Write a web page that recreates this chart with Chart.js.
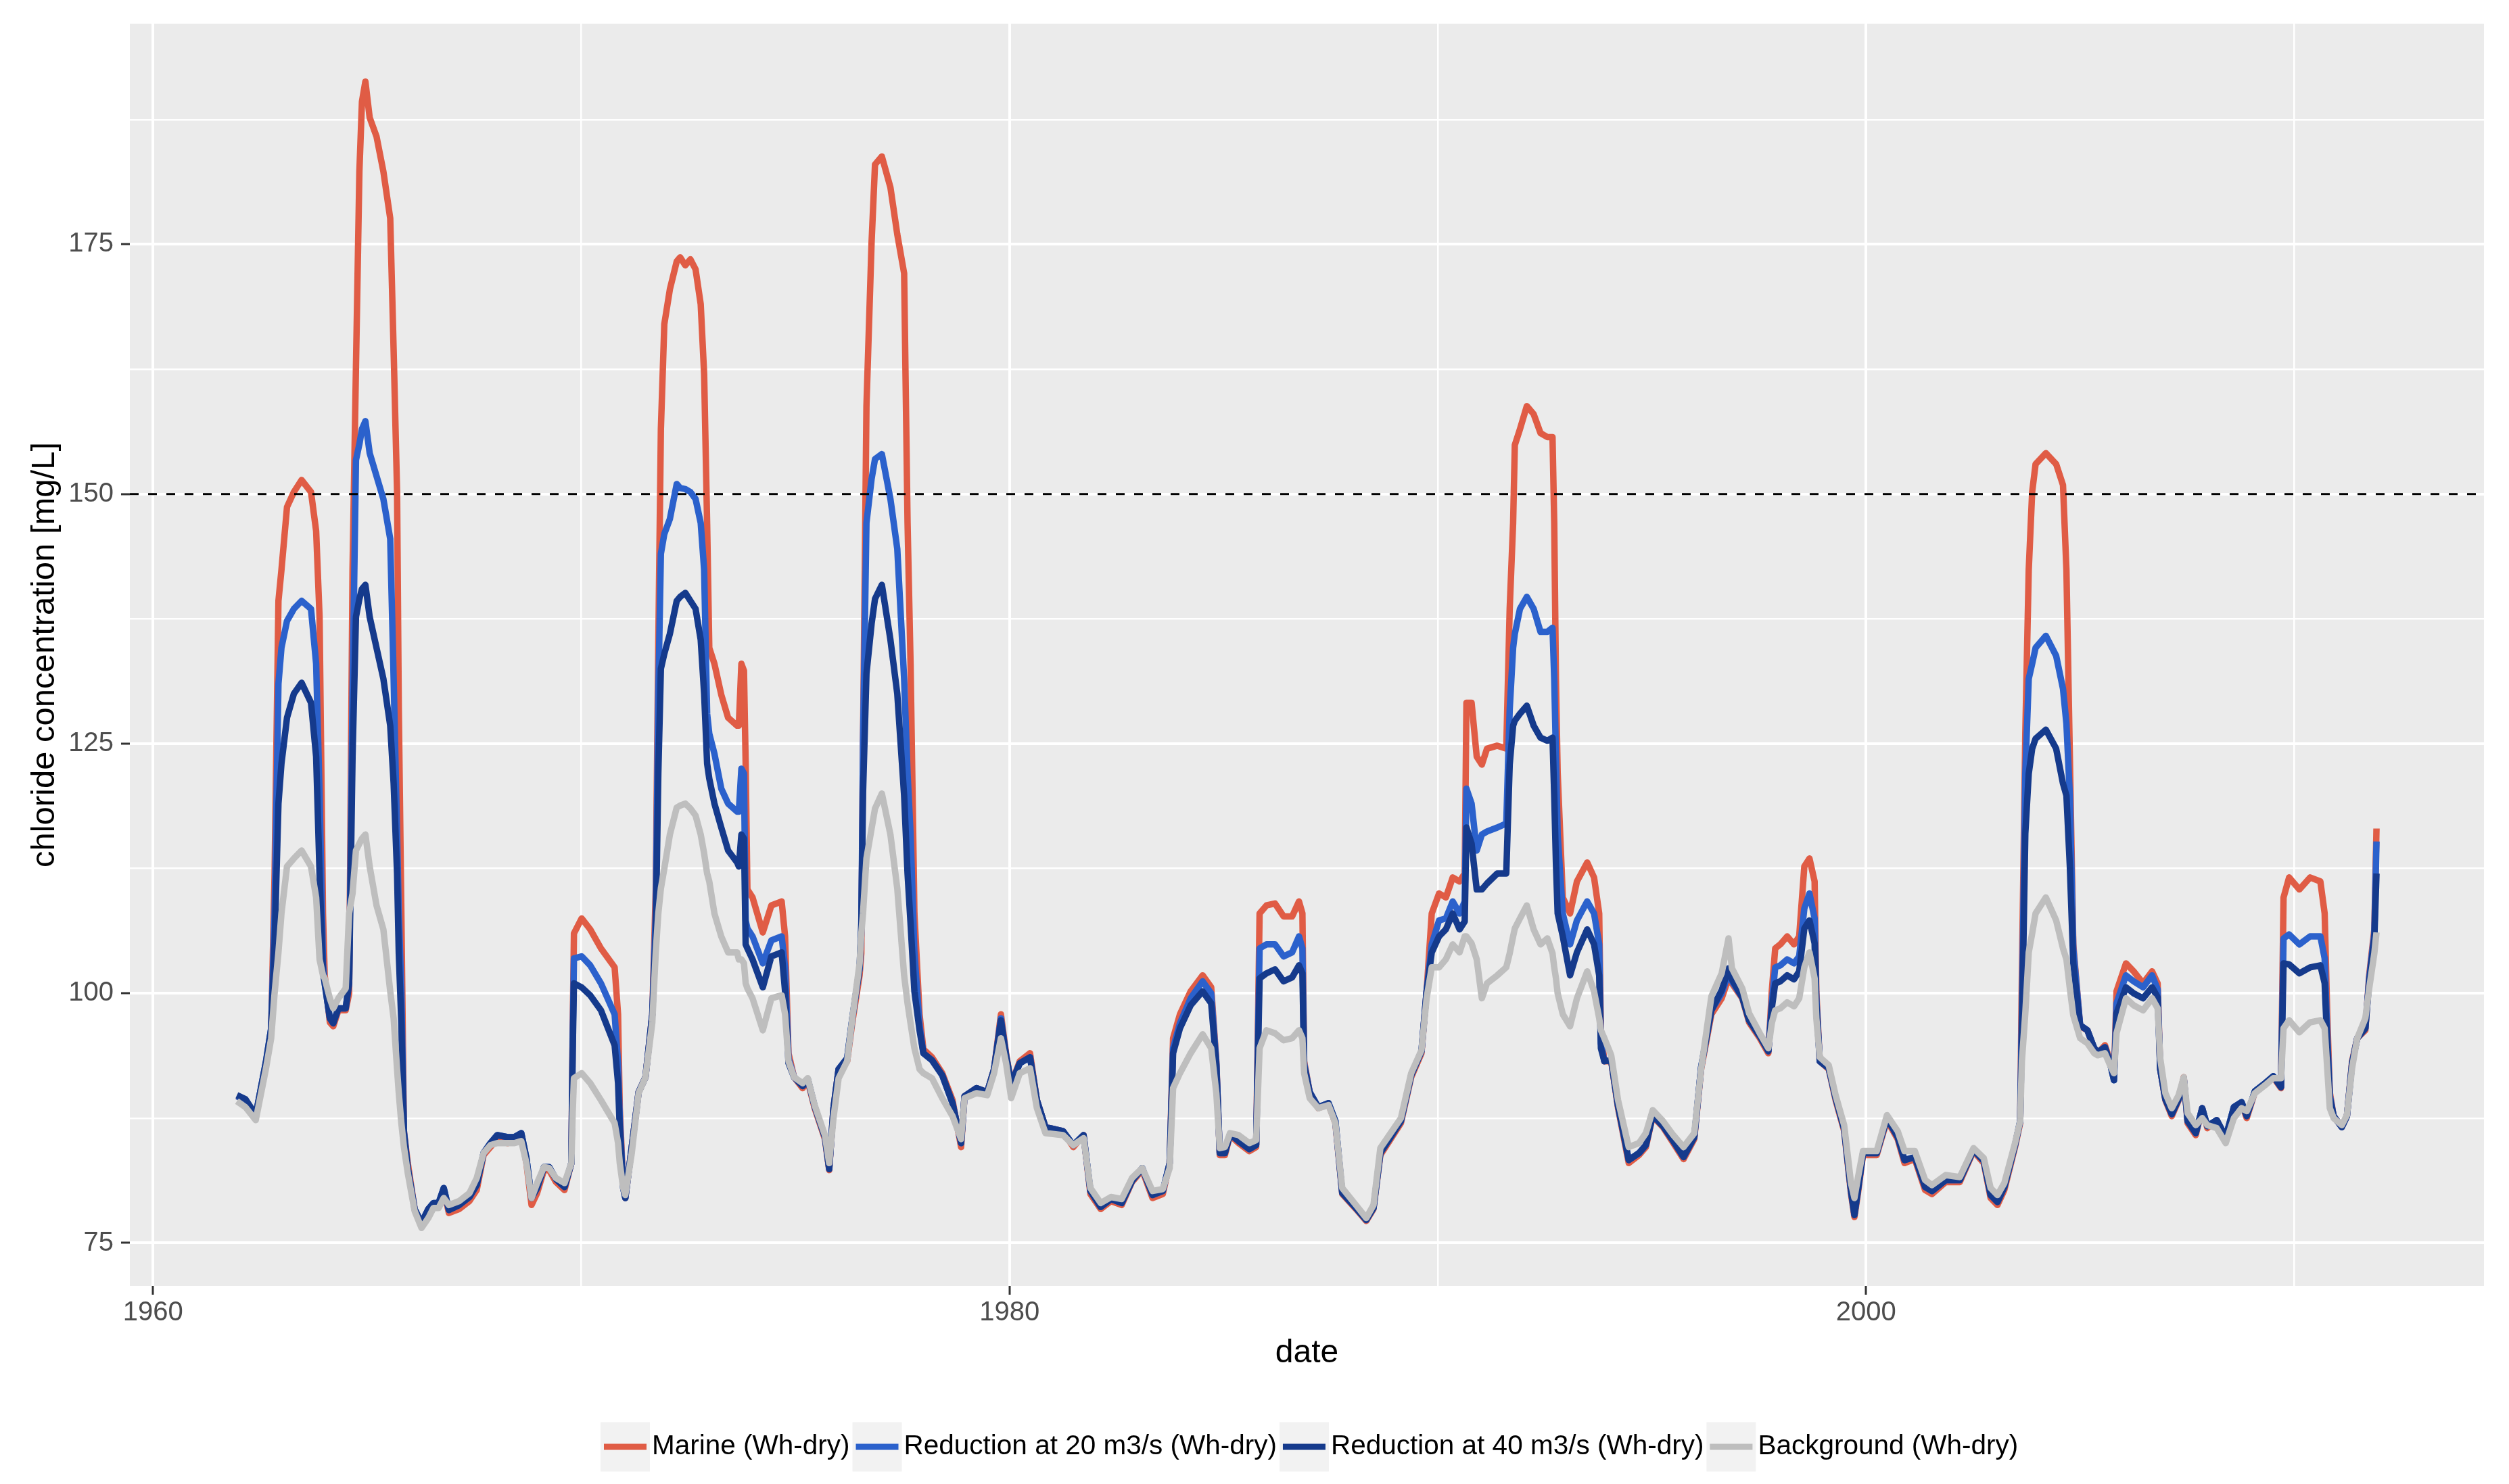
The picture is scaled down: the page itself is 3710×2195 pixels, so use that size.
<!DOCTYPE html>
<html>
<head>
<meta charset="utf-8"/>
<title>chloride concentration</title>
<script src="https://cdn.jsdelivr.net/npm/chart.js@4.4.1/dist/chart.umd.min.js"></script>
<style>
  body { margin: 0; background: #ffffff; overflow: hidden; }
</style>
</head>
<body>
<canvas id="chart" width="3710" height="2195"></canvas>
<script>
// decimal year of each sample
var dates = [
1961.96,1962.16,1962.40,1962.64,1962.76,1962.84,1962.93,1963.00,1963.13,1963.29,
1963.47,1963.69,1963.81,1963.89,1963.97,1964.01,1964.13,1964.21,1964.33,1964.50,
1964.58,1964.66,1964.74,1964.82,1964.88,1964.96,1965.06,1965.22,1965.38,1965.54,
1965.62,1965.70,1965.74,1965.80,1965.86,1965.95,1966.11,1966.27,1966.43,1966.55,
1966.67,1966.79,1966.91,1967.15,1967.39,1967.56,1967.72,1967.88,1968.04,1968.28,
1968.44,1968.60,1968.72,1968.84,1968.97,1969.13,1969.25,1969.41,1969.61,1969.77,
1969.80,1969.83,1970.01,1970.21,1970.46,1970.78,1970.86,1970.90,1970.98,1971.03,
1971.18,1971.34,1971.50,1971.66,1971.74,1971.80,1971.86,1971.94,1972.07,1972.23,
1972.31,1972.43,1972.55,1972.67,1972.79,1972.87,1972.94,1972.99,1973.11,1973.27,
1973.43,1973.64,1973.68,1973.74,1973.80,1973.84,1973.88,1974.00,1974.24,1974.44,
1974.68,1974.76,1974.84,1974.97,1975.17,1975.29,1975.45,1975.69,1975.79,1975.89,
1976.01,1976.21,1976.33,1976.50,1976.54,1976.58,1976.66,1976.78,1976.86,1977.02,
1977.22,1977.38,1977.54,1977.62,1977.69,1977.78,1977.90,1977.99,1978.19,1978.43,
1978.67,1978.87,1978.95,1979.23,1979.48,1979.64,1979.80,1979.92,1980.04,1980.24,
1980.48,1980.64,1980.84,1981.25,1981.49,1981.73,1981.89,1982.13,1982.37,1982.62,
1982.86,1983.10,1983.34,1983.58,1983.74,1983.82,1983.98,1984.23,1984.51,1984.71,
1984.83,1984.91,1985.03,1985.15,1985.35,1985.60,1985.76,1985.84,1986.00,1986.20,
1986.40,1986.60,1986.76,1986.84,1986.88,1987.01,1987.21,1987.45,1987.61,1987.77,
1988.09,1988.33,1988.50,1988.66,1988.90,1989.14,1989.38,1989.62,1989.74,1989.86,
1990.03,1990.19,1990.35,1990.51,1990.63,1990.67,1990.79,1990.91,1991.03,1991.15,
1991.39,1991.60,1991.68,1991.76,1991.80,1991.92,1992.08,1992.24,1992.40,1992.56,
1992.68,1992.72,1992.76,1992.80,1992.92,1993.09,1993.25,1993.49,1993.65,1993.77,
1993.81,1993.89,1994.05,1994.21,1994.46,1994.70,1994.86,1995.02,1995.26,1995.50,
1995.74,1995.99,1996.15,1996.39,1996.63,1996.79,1996.87,1997.11,1997.27,1997.52,
1997.72,1997.80,1997.88,1998.00,1998.16,1998.32,1998.44,1998.56,1998.68,1998.80,
1998.84,1998.92,1999.13,1999.29,1999.49,1999.65,1999.73,1999.81,1999.93,2000.25,
2000.49,2000.74,2000.90,2001.14,2001.38,2001.54,2001.86,2002.19,2002.51,2002.75,
2002.91,2003.07,2003.23,2003.48,2003.60,2003.64,2003.72,2003.80,2003.88,2003.96,
2004.20,2004.44,2004.60,2004.68,2004.76,2004.84,2005.00,2005.17,2005.33,2005.41,
2005.58,2005.70,2005.79,2005.85,2006.07,2006.25,2006.47,2006.68,2006.81,2006.87,
2006.99,2007.14,2007.30,2007.42,2007.51,2007.70,2007.85,2007.97,2008.19,2008.40,
2008.59,2008.77,2008.89,2009.08,2009.32,2009.51,2009.69,2009.75,2009.88,2010.12,
2010.37,2010.61,2010.71,2010.77,2010.83,2010.92,2011.11,2011.23,2011.35,2011.47,
2011.66,2011.75,2011.87,2011.92
];

var marine = [
89.7,89.3,87.7,93.0,96.0,112.0,139.3,142.4,148.7,150.2,
151.4,150.2,146.3,137.7,108.0,101.8,97.1,96.7,98.3,98.3,
100.0,142.4,162.7,182.3,189.3,191.3,187.7,185.8,182.3,177.6,
164.3,150.2,128.4,108.0,86.2,83.0,78.4,76.8,78.4,78.8,
78.8,80.3,78.0,78.4,79.2,80.3,83.8,84.6,85.4,85.0,
85.4,85.8,83.0,78.8,80.0,82.3,82.3,81.1,80.3,83.0,
96.0,106.0,107.5,106.4,104.5,102.6,97.9,88.5,80.7,79.5,
84.6,90.1,91.6,97.9,110.4,135.0,156.5,167.0,170.5,173.3,
173.7,172.9,173.5,172.5,169.0,162.0,147.0,134.6,133.0,129.9,
127.6,126.8,126.8,133.0,132.3,122.9,110.4,109.6,106.1,108.8,
109.2,105.7,94.0,91.6,90.5,91.2,88.5,85.4,82.3,88.5,
92.4,93.2,97.1,101.8,104.0,125.0,158.8,175.2,183.0,183.8,
180.7,176.0,172.1,147.1,133.0,108.0,97.9,94.4,93.6,92.0,
89.3,84.6,89.7,90.5,90.1,92.4,97.9,94.0,90.9,93.2,
94.0,89.3,86.6,86.2,84.6,85.8,79.9,78.4,79.2,78.8,
81.1,82.3,79.5,79.9,83.0,95.5,97.9,100.2,101.8,100.6,
93.2,83.8,83.8,85.8,85.0,84.2,84.6,108.0,108.8,109.0,
107.7,107.7,109.2,108.0,93.2,90.1,88.5,88.9,87.0,79.9,
78.4,77.2,78.4,83.8,85.4,87.0,91.6,94.0,100.2,108.0,
110.0,109.6,111.6,111.2,112.0,129.1,129.1,123.7,122.9,124.5,
124.8,124.5,138.5,147.1,154.9,156.5,158.8,158.0,156.1,155.7,
155.7,147.1,131.5,122.1,109.6,108.0,111.2,113.1,111.6,108.0,
96.3,93.2,93.2,88.5,83.0,83.8,84.6,87.7,86.6,85.0,
83.4,85.4,92.4,97.9,99.5,101.5,101.0,99.5,97.1,95.5,
94.0,100.2,104.5,104.9,105.7,104.9,105.7,112.7,113.5,111.2,
100.2,93.2,92.4,89.3,86.2,79.9,77.6,79.9,83.8,83.8,
87.3,85.4,83.0,83.4,80.3,79.9,81.1,81.1,84.2,83.0,
79.5,78.8,80.3,84.6,87.0,101.8,126.0,142.4,150.2,153.0,
154.1,153.0,150.9,142.4,123.7,104.9,96.7,96.3,94.4,94.0,
94.8,93.2,91.6,100.2,103.0,102.2,101.0,102.2,101.0,92.4,
89.3,87.7,89.3,91.6,87.0,85.8,88.5,86.5,87.3,85.4,
88.5,89.0,87.5,90.1,90.9,91.6,90.5,109.6,111.6,110.4,
111.6,111.2,108.0,97.9,90.1,87.7,86.6,87.7,93.2,95.5,
96.3,101.8,106.4,116.5
];

var reduction20 = [
89.7,89.3,87.8,93.2,96.5,108.0,131.0,134.6,137.3,138.5,
139.3,138.5,133.0,120.0,103.0,101.0,97.5,97.0,98.5,98.5,
101.0,130.0,153.4,155.0,156.5,157.3,154.1,151.8,149.5,145.5,
131.5,115.9,108.0,100.2,86.2,82.5,78.4,77.0,78.4,79.0,
79.0,80.5,78.3,78.8,79.6,80.8,84.0,85.0,85.8,85.6,
85.6,86.0,83.5,79.5,80.5,82.6,82.6,81.4,80.6,83.0,
95.0,103.5,103.7,102.8,101.0,97.9,93.0,87.5,80.5,79.5,
84.6,90.1,91.6,97.9,108.0,130.0,144.0,146.0,147.5,151.0,
150.6,150.5,150.2,149.5,147.1,142.4,128.0,126.0,124.0,120.5,
119.0,118.2,118.2,122.5,122.0,107.3,106.5,105.7,103.0,105.3,
105.7,102.6,93.5,91.6,90.7,91.4,88.7,85.6,82.4,88.5,
92.4,93.5,97.5,102.5,106.0,125.0,147.1,151.5,153.5,154.0,
149.5,144.5,131.5,122.0,116.0,104.1,96.8,94.0,93.3,91.8,
89.0,85.0,89.7,90.5,90.1,92.4,97.5,93.8,90.9,93.0,
93.6,89.3,86.6,86.2,84.8,85.8,80.2,78.6,79.4,79.0,
81.2,82.5,79.8,80.2,83.0,94.5,97.0,99.5,101.2,100.0,
93.0,84.0,84.0,85.9,85.2,84.4,84.8,104.5,104.9,104.9,
103.7,104.1,105.7,104.5,93.0,90.1,88.6,89.0,87.2,80.0,
78.5,77.3,78.5,84.0,85.6,87.2,91.8,94.2,100.2,104.9,
107.3,107.5,109.2,108.0,109.2,120.5,119.0,114.3,115.9,116.2,
116.6,117.0,128.4,134.6,136.0,138.5,139.7,138.5,136.2,136.2,
136.6,131.5,123.7,115.9,108.0,104.9,107.3,109.2,108.0,104.9,
95.0,93.2,93.3,88.7,83.3,84.0,84.8,87.8,86.7,85.2,
83.6,85.6,92.6,98.3,100.0,102.0,101.2,99.6,97.3,95.7,
94.2,99.0,102.6,102.8,103.4,103.0,103.7,108.5,110.0,107.5,
99.5,93.2,92.5,89.5,86.4,80.2,77.8,80.2,84.0,84.0,
87.5,85.6,83.3,83.6,80.6,80.2,81.3,81.3,84.3,83.2,
79.8,79.1,80.6,84.8,87.2,98.0,122.0,131.5,133.0,134.6,
135.8,133.8,130.5,127.0,119.8,104.5,96.8,96.3,94.5,94.1,
94.6,93.0,91.3,99.0,101.8,101.2,100.6,101.8,100.4,92.4,
89.4,87.9,89.4,91.5,87.2,86.0,88.5,86.7,87.3,85.6,
88.6,89.1,87.7,90.2,91.0,91.7,90.6,105.5,105.9,104.9,
105.7,105.7,103.5,96.0,89.8,87.7,86.6,87.7,93.0,95.5,
96.5,101.5,106.0,115.2
];

var reduction40 = [
89.8,89.4,87.8,93.2,96.5,105.0,119.0,123.0,127.6,130.0,
131.1,129.1,123.7,112.0,102.0,101.0,97.5,97.0,98.5,98.5,
101.0,123.7,137.7,139.5,140.5,140.9,137.7,134.6,131.5,126.8,
121.0,112.0,104.0,97.0,86.0,82.5,78.4,77.0,78.4,79.0,
79.0,80.5,78.3,78.8,79.6,80.8,84.0,85.0,85.8,85.6,
85.6,86.0,83.5,79.5,80.5,82.6,82.6,81.4,80.6,83.0,
94.0,101.0,100.6,99.8,98.3,94.8,91.0,86.5,80.5,79.5,
84.6,90.1,91.6,97.9,106.0,122.0,132.5,134.0,136.0,139.3,
139.7,140.1,139.3,138.5,135.4,130.0,123.0,121.5,119.0,116.6,
114.3,113.1,112.7,115.9,115.5,104.9,104.5,103.4,100.6,103.7,
104.1,100.2,93.0,91.6,90.7,91.4,88.7,85.6,82.4,88.5,
92.4,93.5,97.5,102.5,107.0,120.0,132.0,137.0,139.5,140.9,
135.4,130.0,119.8,112.0,107.0,100.2,96.3,94.0,93.3,91.8,
89.0,85.0,89.7,90.5,90.1,92.4,97.3,93.8,90.9,93.0,
93.6,89.3,86.6,86.2,84.8,85.8,80.2,78.6,79.4,79.0,
81.2,82.5,79.8,80.2,83.0,94.0,96.5,98.8,100.2,99.0,
92.8,84.0,84.0,85.9,85.2,84.4,84.8,101.5,102.0,102.4,
101.2,101.6,102.8,102.0,92.8,90.1,88.6,89.0,87.2,80.0,
78.5,77.3,78.5,84.0,85.6,87.2,91.8,94.2,100.2,104.1,
105.7,106.4,108.0,106.4,107.2,116.6,115.0,110.4,110.4,111.0,
112.0,112.0,122.9,126.8,127.3,128.0,128.8,126.8,125.6,125.3,
125.6,119.8,113.0,108.0,105.7,101.8,104.1,106.4,104.9,101.8,
94.5,93.2,93.3,88.7,83.3,84.0,84.8,87.8,86.7,85.2,
83.6,85.6,92.6,98.3,100.3,102.5,101.4,99.6,97.3,95.7,
94.2,98.5,101.0,101.2,101.8,101.4,102.2,106.5,107.3,105.0,
99.0,93.2,92.5,89.5,86.4,80.2,77.8,80.2,84.0,84.0,
87.5,85.6,83.3,83.6,80.6,80.2,81.3,81.3,84.3,83.2,
79.8,79.1,80.6,84.8,87.2,96.0,116.0,122.0,124.5,125.5,
126.4,124.5,121.0,119.8,112.7,103.0,96.8,96.3,94.5,94.1,
94.6,93.0,91.3,98.0,100.6,100.0,99.5,100.6,99.6,92.4,
89.4,87.9,89.4,91.5,87.2,86.0,88.5,86.7,87.3,85.6,
88.6,89.1,87.7,90.2,91.0,91.7,90.6,103.0,102.9,102.0,
102.6,102.8,101.0,95.0,89.6,87.7,86.6,87.7,93.0,95.5,
96.5,101.2,105.5,112.0
];

var background = [
89.2,88.6,87.3,92.5,95.5,100.0,104.1,108.0,112.7,113.5,
114.3,112.7,109.6,103.4,101.8,101.5,99.5,98.5,99.5,100.5,
108.0,110.0,114.3,115.0,115.5,115.9,112.7,108.8,106.4,100.2,
97.5,92.4,90.0,87.0,84.6,82.0,78.2,76.5,77.5,78.5,
78.5,79.5,78.8,79.2,80.0,81.5,84.0,84.8,85.0,85.0,
85.0,85.2,83.0,79.5,81.0,82.6,82.5,81.5,81.0,83.0,
88.0,91.5,92.0,91.0,89.3,87.0,85.0,83.0,80.5,79.8,
84.0,90.0,91.6,97.1,104.1,108.0,110.5,112.5,115.9,118.6,
118.8,119.0,118.5,117.8,115.9,114.0,112.0,111.2,108.0,105.7,
104.1,104.1,103.4,103.4,103.0,101.0,100.5,99.5,96.3,99.5,
99.8,97.9,93.2,91.6,91.0,91.5,88.8,85.8,83.0,87.5,
91.5,93.2,97.5,103.0,106.0,108.0,113.5,116.5,118.5,120.0,
115.9,110.5,101.8,99.0,97.0,94.5,92.4,92.0,91.5,89.5,
87.7,85.4,89.5,90.0,89.8,92.0,95.5,93.0,89.5,92.0,
92.5,88.5,86.0,85.8,84.8,85.5,80.5,79.0,79.6,79.4,
81.5,82.5,80.2,80.4,82.5,90.5,92.0,94.0,95.9,94.5,
90.0,84.5,84.6,86.0,85.8,85.0,85.3,94.5,96.3,96.0,
95.3,95.5,96.3,95.5,92.0,89.5,88.5,88.8,87.0,80.5,
78.8,77.5,78.8,84.5,86.0,87.5,92.0,94.3,99.5,102.6,
102.6,103.4,104.9,104.1,105.7,105.7,105.0,103.4,99.5,101.0,
101.8,102.6,104.0,105.7,106.5,107.5,108.8,106.4,104.9,105.5,
104.0,102.6,101.5,100.0,97.9,96.7,99.5,102.2,100.2,97.5,
96.3,95.5,93.8,89.3,84.6,85.0,86.0,88.3,87.2,85.8,
84.6,86.0,92.4,99.7,102.0,105.5,102.5,100.5,98.0,96.0,
94.5,97.0,98.3,98.5,99.1,98.7,99.5,102.6,104.1,101.5,
97.5,93.6,92.8,89.8,86.8,81.0,79.5,81.5,84.2,84.2,
87.8,86.2,84.2,84.2,81.3,80.8,81.8,81.6,84.5,83.5,
80.5,79.8,81.0,85.0,87.2,93.2,98.0,104.1,106.0,108.0,
109.6,107.3,104.5,103.4,100.5,97.8,95.5,95.0,94.0,93.8,
94.0,92.8,92.0,96.0,99.5,98.8,98.3,99.5,98.5,93.5,
90.0,88.5,89.8,91.6,88.0,86.8,87.5,86.8,86.5,85.0,
87.5,88.5,88.2,90.0,90.8,91.5,91.5,96.5,97.3,96.1,
97.1,97.3,96.5,92.5,88.5,87.5,86.8,87.8,92.5,95.5,
97.5,100.5,104.0,106.1
];

var seriesNames = ['Marine (Wh-dry)', 'Reduction at 20 m3/s (Wh-dry)',
                   'Reduction at 40 m3/s (Wh-dry)', 'Background (Wh-dry)'];
var seriesColors = ['#E05C45', '#2B61CC', '#153A8C', '#BEBEBE'];

var xTicks = [1960, 1970, 1980, 1990, 2000, 2010];
var xLabels = [1960, 1980, 2000];
var yTicks = [75, 87.5, 100, 112.5, 125, 137.5, 150, 162.5, 175, 187.5];
var yLabels = [75, 100, 125, 150, 175];
var xMin = 1959.46, xMax = 2014.43;
var yMin = 70.7, yMax = 197.1;
var threshold = 150;

var FONT = "'Liberation Sans', Arial, Helvetica, sans-serif";
Chart.defaults.font.family = FONT;

function toPoints(values) {
    return dates.map(function(d, i) { return {x: d, y: values[i]}; });
}

var allValues = [marine, reduction20, reduction40, background];
var datasets = allValues.map(function(v, i) {
    return {
        label: seriesNames[i],
        data: toPoints(v),
        borderColor: seriesColors[i],
        borderWidth: 9.5,
        borderJoinStyle: 'round',
        pointRadius: 0,
        tension: 0,
        order: 4 - i
    };
});
datasets.push({
    label: 'limit',
    data: [{x: xMin, y: threshold}, {x: xMax, y: threshold}],
    borderColor: '#000000',
    borderWidth: 3,
    borderDash: [13, 14],
    pointRadius: 0,
    order: 0
});

// grey panel, axis titles and the ggplot style legend
var decor = {
    id: 'decor',
    beforeDraw: function(chart) {
        var ctx = chart.ctx, a = chart.chartArea;
        ctx.save();
        ctx.fillStyle = '#FFFFFF';
        ctx.fillRect(0, 0, chart.width, chart.height);
        ctx.fillStyle = '#EBEBEB';
        ctx.fillRect(a.left, a.top, a.right - a.left, a.bottom - a.top);
        ctx.restore();
    },
    afterDraw: function(chart) {
        var ctx = chart.ctx, a = chart.chartArea;
        ctx.save();
        ctx.fillStyle = '#000000';
        ctx.font = '48px ' + FONT;
        ctx.textAlign = 'center';
        ctx.textBaseline = 'middle';
        ctx.fillText('date', (a.left + a.right) / 2, a.bottom + 100);

        ctx.save();
        ctx.translate(66, (a.top + a.bottom) / 2);
        ctx.rotate(-Math.PI / 2);
        ctx.font = '49px ' + FONT;
        ctx.fillText('chloride concentration [mg/L]', 0, 0);
        ctx.restore();

        var y = 2140, x = 888, key = 73;
        ctx.font = '40.5px ' + FONT;
        ctx.textAlign = 'left';
        for (var i = 0; i < seriesNames.length; i++) {
            ctx.fillStyle = '#F2F2F2';
            ctx.fillRect(x, y - key / 2, key, key);
            ctx.strokeStyle = seriesColors[i];
            ctx.lineWidth = 9;
            ctx.beginPath();
            ctx.moveTo(x + 5, y);
            ctx.lineTo(x + key - 5, y);
            ctx.stroke();
            ctx.fillStyle = '#000000';
            ctx.fillText(seriesNames[i], x + key + 3, y);
            x += key + 3 + ctx.measureText(seriesNames[i]).width + 4;
        }
        ctx.restore();
    }
};

function isMajor(list, c) {
    return c.tick && list.indexOf(c.tick.value) !== -1;
}

var ctx = document.getElementById('chart');
var myChart = new Chart(ctx, {
    type: 'line',
    data: { datasets: datasets },
    plugins: [decor],
    options: {
        responsive: false,
        animation: false,
        devicePixelRatio: 1,
        events: [],
        layout: { padding: { top: 33, right: 37, left: 0, bottom: 0 } },
        plugins: {
            legend: { display: false },
            tooltip: { enabled: false },
            title: { display: false }
        },
        scales: {
            x: {
                type: 'linear',
                min: xMin,
                max: xMax,
                afterBuildTicks: function(s) {
                    s.ticks = xTicks.map(function(v) { return {value: v}; });
                },
                afterFit: function(s) { s.height = 293; },
                ticks: {
                    autoSkip: false,
                    maxRotation: 0,
                    padding: 3,
                    color: '#4D4D4D',
                    font: { size: 40 },
                    callback: function(v) { return xLabels.indexOf(v) !== -1 ? String(v) : ''; }
                },
                grid: {
                    color: '#FFFFFF',
                    lineWidth: function(c) { return isMajor(xLabels, c) ? 4 : 2.5; },
                    tickColor: function(c) { return isMajor(xLabels, c) ? '#333333' : 'rgba(0,0,0,0)'; },
                    tickLength: 13,
                    tickWidth: 3
                },
                border: { display: false }
            },
            y: {
                type: 'linear',
                min: yMin,
                max: yMax,
                afterBuildTicks: function(s) {
                    s.ticks = yTicks.map(function(v) { return {value: v}; });
                },
                afterFit: function(s) { s.width = 192; },
                ticks: {
                    padding: 11,
                    color: '#4D4D4D',
                    font: { size: 40 },
                    callback: function(v) { return yLabels.indexOf(v) !== -1 ? String(v) : ''; }
                },
                grid: {
                    color: '#FFFFFF',
                    lineWidth: function(c) { return isMajor(yLabels, c) ? 4 : 2.5; },
                    tickColor: function(c) { return isMajor(yLabels, c) ? '#333333' : 'rgba(0,0,0,0)'; },
                    tickLength: 13,
                    tickWidth: 3
                },
                border: { display: false }
            }
        }
    }
});
</script>
</body>
</html>
